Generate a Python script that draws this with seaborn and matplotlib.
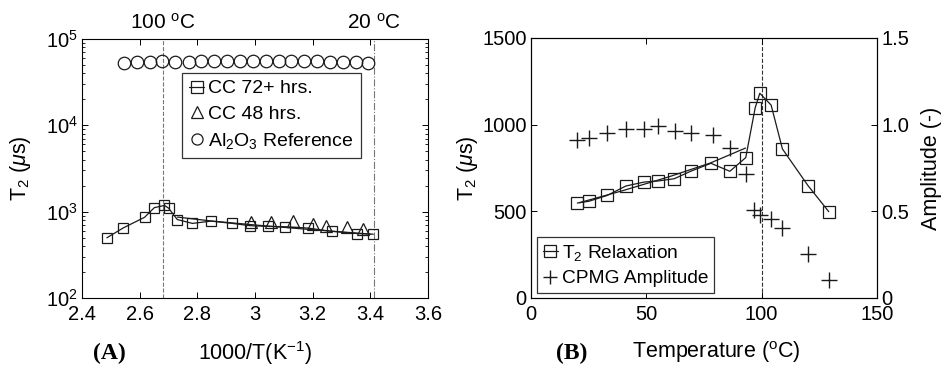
import matplotlib
matplotlib.use("Agg")
import matplotlib.pyplot as plt
import seaborn as sns
from matplotlib.lines import Line2D
from matplotlib.ticker import FuncFormatter, FixedLocator, LogLocator, NullFormatter

# ---------------- data ----------------
# Panel B: T2 relaxation vs temperature (deg C)
temp_c = [20.1, 25.1, 33.1, 41.1, 49.1, 55.1, 62.1, 69.2, 78.0, 86.2, 93.1,
          97.2, 99.2, 104.1, 109.0, 120.1, 129.1]
t2_relax = [548, 558, 592, 646, 669, 675, 688, 731, 777, 731, 810,
            1098, 1181, 1113, 860, 648, 498]
# fit line through the low-temperature part
fit_temp = [21, 40, 60, 78, 93]
fit_t2 = [550, 620, 700, 780, 865]
# CPMG amplitude (right axis)
amp_temp = [19.8, 25.1, 33.1, 41.1, 48.9, 55.1, 62.4, 69.2, 78.7, 86.2, 93.1,
            96.7, 99.2, 104.1, 109.0, 120.1, 129.1]
cpmg_amp = [0.910, 0.923, 0.952, 0.977, 0.977, 0.990, 0.963, 0.952, 0.938, 0.865,
            0.717, 0.510, 0.477, 0.458, 0.406, 0.256, 0.106]

# Panel A: CC 48 hrs (triangles) vs 1000/T
cc48_x = [2.985, 3.056, 3.133, 3.202, 3.245, 3.320, 3.376]
cc48_t2 = [750, 750, 770, 710, 675, 660, 635]
# Al2O3 reference (circles)
ref_x = [2.547, 2.592, 2.637, 2.679, 2.724, 2.770, 2.814, 2.859, 2.904, 2.948,
         2.993, 3.037, 3.082, 3.126, 3.171, 3.215, 3.260, 3.306, 3.350, 3.393]
ref_t2 = [53000, 53600, 54200, 55100, 54500, 54800, 55000, 55200, 55400, 55600,
          55800, 56000, 55600, 55400, 55200, 55000, 54600, 54200, 53800, 53000]

marked_temps = [100, 20]          # vertical reference lines (deg C)
xticks_A = [2.4, 2.6, 2.8, 3.0, 3.2, 3.4, 3.6]
yticks_A = [1e2, 1e3, 1e4, 1e5]
xticks_B = [0, 50, 100, 150]
yticks_B = [0, 500, 1000, 1500]
yticks_B2 = [0, 0.5, 1.0, 1.5]
yticklabels_B2 = ["0", "0.5", "1.0", "1.5"]

def inv_t(t):
    return 1000.0 / (t + 273.15)

# ---------------- style ----------------
sns.set_theme(style="white")
plt.rcParams.update({
    "font.family": ["Liberation Sans", "DejaVu Sans"],
    "mathtext.fontset": "custom",
    "mathtext.rm": "Liberation Sans",
    "mathtext.it": "Liberation Sans:italic",
    "mathtext.bf": "Liberation Sans:bold",
    "axes.edgecolor": "black",
    "axes.linewidth": 0.8,
    "xtick.direction": "in",
    "ytick.direction": "in",
    "xtick.color": "black",
    "ytick.color": "black",
    "xtick.major.size": 4,
    "ytick.major.size": 4,
    "xtick.minor.size": 2,
    "ytick.minor.size": 2,
    "xtick.major.width": 0.7,
    "ytick.major.width": 0.7,
    "xtick.minor.width": 0.6,
    "ytick.minor.width": 0.6,
    "xtick.labelsize": 14.5,
    "ytick.labelsize": 14.5,
    "text.color": "black",
    "axes.labelcolor": "black",
})

fig = plt.figure(figsize=(9.43, 3.65), dpi=100)
axA = fig.add_axes([0.087, 0.1836, 0.3669, 0.7096])
axB = fig.add_axes([0.5631, 0.1836, 0.3669, 0.7123])

mk = dict(mfc="none", mec="k", mew=0.9)

# ---------------- panel A ----------------
axA.set_yscale("log")
invT = [inv_t(t) for t in temp_c]
fit_invT = [inv_t(t) for t in fit_temp]
sns.lineplot(x=invT, y=t2_relax, sort=False, estimator=None, ax=axA, color="k",
             lw=0.9, marker="s", ms=7.5, **mk)
sns.lineplot(x=fit_invT, y=fit_t2, sort=False, estimator=None, ax=axA, color="k", lw=0.9)
sns.lineplot(x=cc48_x, y=cc48_t2, sort=False, estimator=None, ax=axA, color="k",
             linestyle="", marker="^", ms=8, **mk)
sns.lineplot(x=ref_x, y=ref_t2, sort=False, estimator=None, ax=axA, color="k",
             linestyle="", marker="o", ms=9, **mk)

axA.axvline(inv_t(marked_temps[0]), color="#777777", ls="--", lw=0.8, zorder=0)
axA.axvline(inv_t(marked_temps[1]), color="#777777", ls="-.", lw=0.8, zorder=0)

axA.set_xlim(2.4, 3.6)
axA.set_ylim(1e2, 1e5)
axA.xaxis.set_major_locator(FixedLocator(xticks_A))
axA.xaxis.set_major_formatter(FuncFormatter(lambda v, p: f"{v:g}"))
axA.yaxis.set_major_locator(FixedLocator(yticks_A))
axA.yaxis.set_minor_locator(LogLocator(base=10, subs=range(2, 10), numticks=20))
axA.yaxis.set_minor_formatter(NullFormatter())
axA.tick_params(which="both", top=True, right=True, bottom=True, left=True)
axA.tick_params(axis="x", pad=5)
axA.tick_params(axis="y", pad=3)

for t in marked_temps:
    axA.text(inv_t(t), 1.039, f"{t} $^\\mathrm{{o}}$C", transform=axA.get_xaxis_transform(),
             ha="center", va="baseline", fontsize=15)

axA.set_xlabel("1000/T(K$^{-1}$)", fontsize=15.5)
axA.xaxis.set_label_coords(0.5, -0.158)
axA.set_ylabel("T$_2$ ($\\mu$s)", fontsize=15.5)
axA.yaxis.set_label_coords(-0.142, 0.5)

hA = [Line2D([], [], color="k", lw=0.9, marker="s", ms=8, **mk),
      Line2D([], [], color="k", ls="", marker="^", ms=9, **mk),
      Line2D([], [], color="k", ls="", marker="o", ms=8, **mk)]
legA = axA.legend(hA, ["CC 72+ hrs.", "CC 48 hrs.", "Al$_2$O$_3$ Reference"],
                  loc="upper left", bbox_to_anchor=(0.289, 0.869), borderaxespad=0,
                  fontsize=14, handlelength=0.8, handletextpad=0.2, labelspacing=0.42,
                  borderpad=0.35, fancybox=False, framealpha=1, edgecolor="#333333")
legA.get_frame().set_linewidth(0.9)

# ---------------- panel B ----------------
sns.lineplot(x=temp_c, y=t2_relax, sort=False, estimator=None, ax=axB, color="k",
             lw=0.9, marker="s", ms=9, **mk)
sns.lineplot(x=fit_temp, y=fit_t2, sort=False, estimator=None, ax=axB, color="k", lw=0.9)
axB.axvline(marked_temps[0], color="#333333", ls="--", lw=0.8, zorder=0)
axB.set_xlim(0, 150)
axB.set_ylim(0, 1500)
axB.xaxis.set_major_locator(FixedLocator(xticks_B))
axB.yaxis.set_major_locator(FixedLocator(yticks_B))
axB.tick_params(which="both", top=True, bottom=True, left=True, right=False)
axB.tick_params(axis="x", pad=5)
axB.tick_params(axis="y", pad=3)

axB2 = axB.twinx()
sns.lineplot(x=amp_temp, y=cpmg_amp, sort=False, estimator=None, ax=axB2, color="k",
             linestyle="", marker="+", ms=11, mec="k", mew=1.0)
axB2.set_ylim(0, 1.5)
axB2.yaxis.set_major_locator(FixedLocator(yticks_B2))
axB2.set_yticklabels(yticklabels_B2)
axB2.tick_params(axis="y", direction="in", right=True, pad=3)
for sp in axB2.spines.values():
    sp.set_color("black")
    sp.set_linewidth(0.8)

axB.set_xlabel("")
axB.set_ylabel("T$_2$ ($\\mu$s)", fontsize=15.5)
axB.yaxis.set_label_coords(-0.148, 0.5)
axB2.set_ylabel("Amplitude (-)", fontsize=15.5)
axB2.yaxis.set_label_coords(1.128, 0.5)

fig.text(716 / 943, 1 - 339 / 365, "Temperature ($^\\mathrm{o}$C)", ha="center", va="top",
         fontsize=15.5)

hB = [Line2D([], [], color="k", lw=0.9, marker="s", ms=8.5, **mk),
      Line2D([], [], color="k", ls="", marker="+", ms=10, mec="k", mew=1.0)]
legB = axB.legend(hB, ["T$_2$ Relaxation", "CPMG Amplitude"],
                  loc="lower left", bbox_to_anchor=(0.017, 0.019), borderaxespad=0,
                  fontsize=13.8, handlelength=0.8, handletextpad=0.2, labelspacing=0.35,
                  borderpad=0.3, fancybox=False, framealpha=1, edgecolor="#333333")
legB.get_frame().set_linewidth(0.9)
legB.set_zorder(5)

# panel tags
fig.text(109 / 943, 1 - 353 / 365, "(A)", ha="center", va="center",
         fontsize=17, fontweight="bold", family="Liberation Serif")
fig.text(572 / 943, 1 - 353 / 365, "(B)", ha="center", va="center",
         fontsize=17, fontweight="bold", family="Liberation Serif")

fig.savefig("out.png", dpi=100)
